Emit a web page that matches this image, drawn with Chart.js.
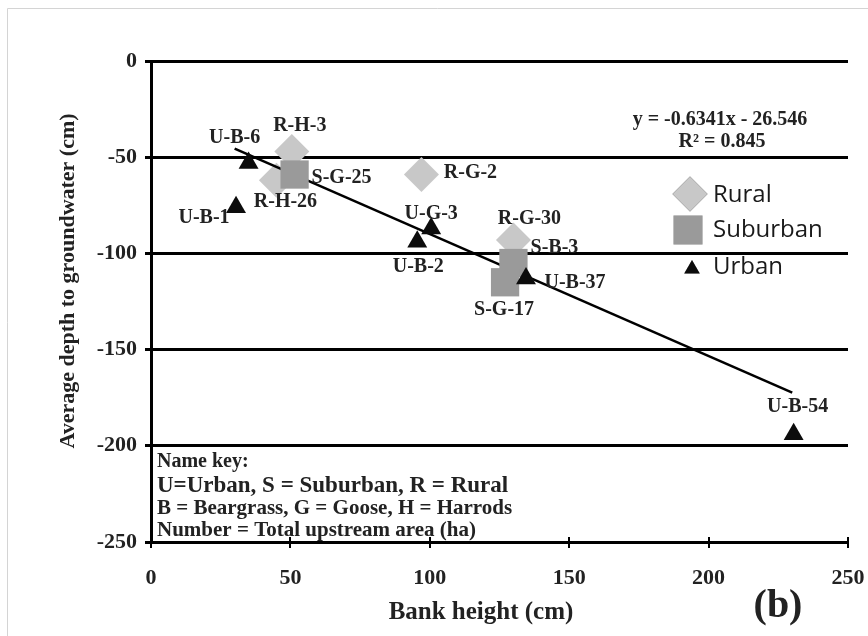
<!DOCTYPE html>
<html><head><meta charset="utf-8">
<script src="https://cdn.jsdelivr.net/npm/chart.js@4.4.0/dist/chart.umd.min.js"></script>
<style>html,body{margin:0;padding:0;background:#fff}canvas{display:block}</style>
</head><body>
<canvas id="c" width="868" height="636"></canvas>
<script>
// Site data: bank height (cm) and average depth to groundwater (cm)
const ruralSites = ['R-H-3', 'R-H-26', 'R-G-2', 'R-G-30'];
const ruralBank = [50.5, 45, 97, 130];
const ruralDepth = [-47, -62, -59, -93];

const suburbanSites = ['S-G-25', 'S-B-3', 'S-G-17'];
const suburbanBank = [51.5, 130, 127];
const suburbanDepth = [-59, -105, -115];

const urbanSites = ['U-B-6', 'U-B-1', 'U-G-3', 'U-B-2', 'U-B-37', 'U-B-54'];
const urbanBank = [35, 30.5, 100.5, 95.5, 134.5, 230.5];
const urbanDepth = [-53, -76, -87, -94, -113, -194];

// Linear fit across all sites
const trendSlope = -0.6341;
const trendIntercept = -26.546;
const trendR2 = 0.845;
const trendRange = [30, 230];

const xTicks = [0, 50, 100, 150, 200, 250];
const yTicks = [0, -50, -100, -150, -200, -250];

const nameKey = [
  'Name key:',
  'U=Urban, S = Suburban, R = Rural',
  'B = Beargrass, G = Goose, H = Harrods',
  'Number = Total upstream area (ha)'
];

// Label placement relative to each marker (px)
const labelOffsets = {
  'U-B-6': [-14, -25], 'U-B-1': [-32, 11], 'U-G-3': [0, -15], 'U-B-2': [1, 25],
  'U-B-37': [49, 4], 'U-B-54': [4, -27],
  'R-H-3': [8, -26], 'R-H-26': [9, 22], 'R-G-2': [49, -2], 'R-G-30': [16, -21],
  'S-G-25': [47, 3], 'S-B-3': [41, -15], 'S-G-17': [-1, 28]
};

const toPoints = (xs, ys) => xs.map((x, i) => ({ x: x, y: ys[i] }));
const trendPoints = trendRange.map(x => ({ x: x, y: trendSlope * x + trendIntercept }));

const SERIF = '"Liberation Serif", "Times New Roman", serif';
const SANS = '"Open Sans", "Liberation Sans", sans-serif';

const styles = {
  rural: { pointStyle: 'rectRot', radius: 17.5, color: '#c8c8c8' },
  suburban: { pointStyle: 'rect', radius: 20, color: '#9a9a9a' },
  urban: { pointStyle: 'triangle', radius: 11.5, color: '#0c0c0c' }
};

const sitesByDataset = [ruralSites, suburbanSites, urbanSites];

const annotate = {
  id: 'annotate',
  beforeDraw(chart) {
    const ctx = chart.ctx;
    ctx.save();
    ctx.fillStyle = '#fff';
    ctx.fillRect(0, 0, chart.width, chart.height);
    ctx.strokeStyle = '#d4d4d4';
    ctx.lineWidth = 1;
    ctx.beginPath();
    ctx.moveTo(7.5, chart.height);
    ctx.lineTo(7.5, 8.5);
    ctx.lineTo(chart.width, 8.5);
    ctx.stroke();
    ctx.restore();
  },
  afterDatasetsDraw(chart) {
    const ctx = chart.ctx;
    const xs = chart.scales.x, area = chart.chartArea;
    ctx.save();

    // tick marks crossing the bottom axis
    ctx.strokeStyle = '#000';
    ctx.lineWidth = 2;
    xTicks.forEach(v => {
      const px = Math.round(xs.getPixelForValue(v));
      ctx.beginPath();
      ctx.moveTo(px, area.bottom - 5);
      ctx.lineTo(px, area.bottom);
      ctx.stroke();
    });

    // site labels
    ctx.font = 'bold 20px ' + SERIF;
    ctx.fillStyle = '#222';
    ctx.textAlign = 'center';
    ctx.textBaseline = 'middle';
    sitesByDataset.forEach((names, di) => {
      const meta = chart.getDatasetMeta(di);
      names.forEach((n, j) => {
        const el = meta.data[j];
        const off = labelOffsets[n] || [0, -20];
        ctx.fillText(n, el.x + off[0], el.y + off[1]);
      });
    });

    // regression equation
    ctx.font = 'bold 20px ' + SERIF;
    ctx.fillText('y = ' + trendSlope + 'x - ' + Math.abs(trendIntercept), 720, 120);
    ctx.fillText('R\u00b2 = ' + trendR2, 722, 142);

    // legend
    const legendItems = [['Rural', styles.rural], ['Suburban', styles.suburban], ['Urban', styles.urban]];
    const markerPos = [[690, 194], [688, 230], [692, 269]];
    const markerR = [17.5, 20.5, 9];
    const textY = [195, 230, 267];
    legendItems.forEach((it, i) => {
      Chart.helpers.drawPoint(ctx, {
        pointStyle: it[1].pointStyle, radius: markerR[i], borderWidth: 0
      }, markerPos[i][0], markerPos[i][1]);
      ctx.fillStyle = it[1].color;
      ctx.fill();
    });
    ctx.font = '24px ' + SANS;
    ctx.fillStyle = '#1a1a1a';
    ctx.textAlign = 'left';
    legendItems.forEach((it, i) => ctx.fillText(it[0], 713, textY[i]));

    // name key
    ctx.fillStyle = '#222';
    const keySizes = [20, 23, 21, 21];
    const keyY = [462, 486, 509, 531];
    nameKey.forEach((t, i) => {
      ctx.font = 'bold ' + keySizes[i] + 'px ' + SERIF;
      ctx.fillText(t, 157, keyY[i]);
    });

    // axis titles
    ctx.textAlign = 'center';
    ctx.font = 'bold 25px ' + SERIF;
    ctx.fillText('Bank height (cm)', 481, 613);
    ctx.font = 'bold 22px ' + SERIF;
    ctx.save();
    ctx.translate(68, 281);
    ctx.rotate(-Math.PI / 2);
    ctx.fillText('Average depth to groundwater (cm)', 0, 0);
    ctx.restore();

    // panel letter
    ctx.font = 'bold 40px ' + SERIF;
    ctx.fillText('(b)', 778, 607);
    ctx.restore();
  }
};

const scatterSet = (label, pts, st, order) => ({
  label: label, data: pts, order: order,
  pointStyle: st.pointStyle, pointRadius: st.radius, pointBorderWidth: 0,
  backgroundColor: st.color, borderColor: st.color
});

new Chart(document.getElementById('c'), {
  type: 'scatter',
  data: {
    datasets: [
      scatterSet('Rural', toPoints(ruralBank, ruralDepth), styles.rural, 4),
      scatterSet('Suburban', toPoints(suburbanBank, suburbanDepth), styles.suburban, 2),
      scatterSet('Urban', toPoints(urbanBank, urbanDepth), styles.urban, 1),
      { label: 'Linear fit', type: 'line', data: trendPoints, order: 3, borderColor: '#000', borderWidth: 2.5,
        pointRadius: 0, fill: false, showLine: true }
    ]
  },
  options: {
    responsive: false,
    animation: false,
    layout: { padding: { left: 0, top: 61, right: 16, bottom: 0 } },
    plugins: { legend: { display: false }, tooltip: { enabled: false } },
    scales: {
      x: {
        type: 'linear', min: 0, max: 250,
        afterBuildTicks: s => { s.ticks = xTicks.map(v => ({ value: v })); },
        afterFit: s => { s.height = 94; s.paddingLeft = 0; s.paddingRight = 0; },
        grid: { drawOnChartArea: false, drawTicks: true, tickLength: 6, color: '#000', lineWidth: 2 },
        border: { color: '#000', width: 3 },
        ticks: { font: { family: SERIF, size: 22, weight: 'bold' }, color: '#222', padding: 17, maxRotation: 0 }
      },
      y: {
        type: 'linear', min: -250, max: 0,
        afterBuildTicks: s => { s.ticks = yTicks.map(v => ({ value: v })); },
        afterFit: s => { s.width = 151; s.paddingTop = 0; s.paddingBottom = 0; },
        grid: { color: '#000', lineWidth: 3, drawTicks: true, tickLength: 6 },
        border: { color: '#000', width: 3 },
        ticks: { font: { family: SERIF, size: 22, weight: 'bold' }, color: '#222', padding: 8 }
      }
    }
  },
  plugins: [annotate]
});
</script>
</body></html>
